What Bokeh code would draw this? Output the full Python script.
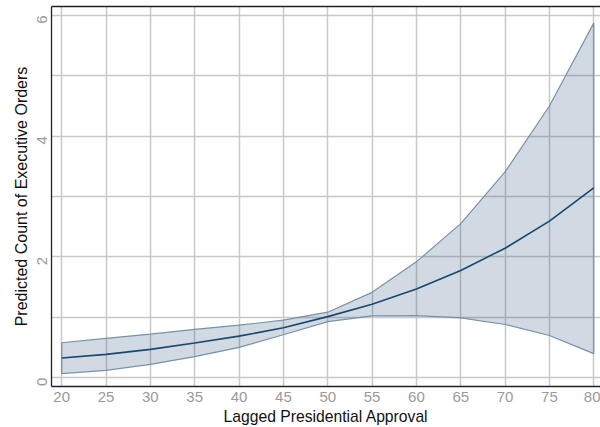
import math
from bokeh.plotting import figure
from bokeh.models import FixedTicker, LinearAxis, Range1d
from bokeh.embed import file_html
from bokeh.resources import INLINE

approval = [20, 25, 30, 35, 40, 45, 50, 55, 60, 65, 70, 75, 80]
predicted = [0.325, 0.384, 0.467, 0.572, 0.687, 0.824, 1.01, 1.214, 1.467, 1.775, 2.143, 2.593, 3.143]
upper_ci = [0.577, 0.648, 0.72, 0.80, 0.868, 0.951, 1.083, 1.412, 1.917, 2.55, 3.407, 4.5, 5.873]
lower_ci = [0.066, 0.12, 0.22, 0.346, 0.50, 0.709, 0.928, 1.022, 1.027, 0.989, 0.879, 0.697, 0.396]
x_ticks = [20, 25, 30, 35, 40, 45, 50, 55, 60, 65, 70, 75, 80]
y_ticks = [0, 2, 4, 6]
y_minor = [1, 3, 5]

NAVY = "#1a476f"
FONT = "Liberation Sans"

p = figure(width=600, height=427, output_backend="svg", toolbar_location=None,
           x_range=Range1d(18.85, 80.76), y_range=Range1d(-0.148, 6.148),
           min_border_left=51, min_border_right=0, min_border_top=6, min_border_bottom=39)
p.outline_line_color = None
p.background_fill_color = "white"
p.border_fill_color = "white"

# band
xs = approval + approval[::-1]
ys = upper_ci + lower_ci[::-1]
p.patch(xs, ys, fill_color=NAVY, fill_alpha=0.2, line_color="#7691a9", line_width=1.2)
p.line(approval, predicted, line_color=NAVY, line_width=1.6)

# axes
xa = p.xaxis[0]
xa.ticker = FixedTicker(ticks=x_ticks)
xa.axis_label = "Lagged Presidential Approval"
ya = p.yaxis[0]
ya.ticker = FixedTicker(ticks=y_ticks, minor_ticks=y_minor)
ya.axis_label = "Predicted Count of Executive Orders"
ya.major_label_orientation = math.pi / 2

for ax in (xa, ya):
    ax.axis_line_color = "#222222"
    ax.axis_line_width = 1.3
    ax.major_tick_out = 0
    ax.major_tick_in = 0
    ax.minor_tick_out = 0
    ax.minor_tick_in = 0
    ax.major_label_text_font = FONT
    ax.major_label_text_font_size = "15px"
    ax.major_label_text_color = "#9a9a9a"
    ax.axis_label_text_font = FONT
    ax.axis_label_text_font_style = "normal"
    ax.axis_label_text_color = "#111111"

xa.axis_label_text_font_size = "15.7px"
ya.axis_label_text_font_size = "16px"
xa.major_label_standoff = 5
xa.axis_label_standoff = 3
ya.major_label_standoff = 9
ya.axis_label_standoff = 0

top = LinearAxis(ticker=FixedTicker(ticks=[]), major_label_text_font_size="0px",
                 axis_line_color="#222222", axis_line_width=1.3,
                 major_tick_out=0, major_tick_in=0, minor_tick_out=0, minor_tick_in=0,
                 major_label_standoff=0)
p.add_layout(top, "above")

# grids
p.xgrid.ticker = FixedTicker(ticks=x_ticks)
p.xgrid.grid_line_color = "#c8c8c8"
p.xgrid.grid_line_width = 1.5
p.ygrid.ticker = FixedTicker(ticks=y_ticks, minor_ticks=y_minor)
p.ygrid.grid_line_color = "#c8c8c8"
p.ygrid.grid_line_width = 1.5
p.ygrid.minor_grid_line_color = "#c8c8c8"
p.ygrid.minor_grid_line_width = 1.5

open("out.html", "w").write(file_html(p, INLINE))
